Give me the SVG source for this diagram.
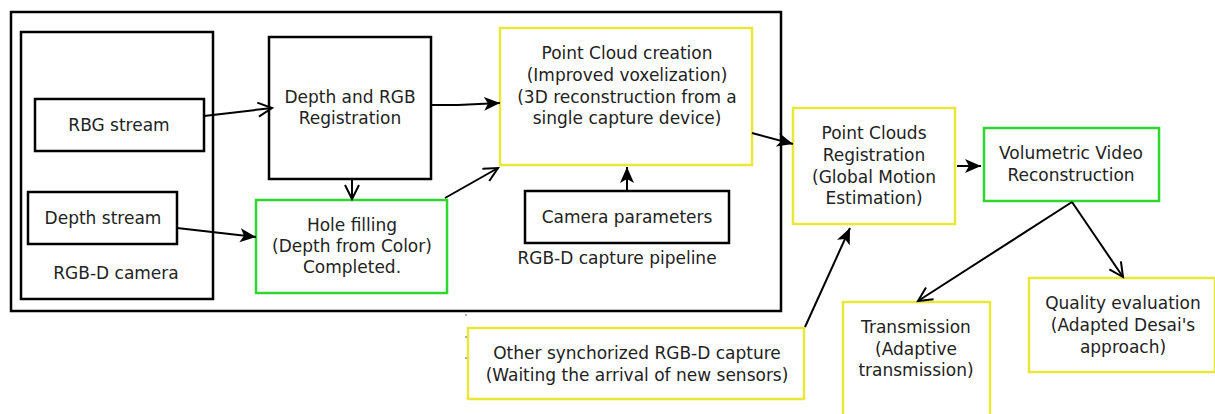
<svg xmlns="http://www.w3.org/2000/svg" width="1215" height="414" viewBox="0 0 1215 414">
<style>
text{font-family:"DejaVu Sans","Liberation Sans",sans-serif;font-size:17px;fill:#222;text-anchor:middle}
.b{fill:#fff;stroke:#000;stroke-width:2.5}
.y{fill:#fff;stroke:#e8e83a;stroke-width:2.5}
.g{fill:#fff;stroke:#2ed62e;stroke-width:2.5}
.c{fill:none;stroke:#000;stroke-width:2}
.f{marker-end:url(#af)}
.o{marker-end:url(#ao)}
</style>
<defs>
<marker id="af" markerUnits="userSpaceOnUse" markerWidth="20" markerHeight="20" refX="16" refY="8" orient="auto"><path d="M0,1 L16,8 L0,15 L4,8 Z" fill="#000"/></marker>
<marker id="ao" markerUnits="userSpaceOnUse" markerWidth="20" markerHeight="20" refX="15" refY="8" orient="auto"><path d="M1,1 L15,8 L1,15" fill="none" stroke="#000" stroke-width="2"/></marker>
</defs>
<g id="pipeline"><rect class="b" x="11" y="12" width="770" height="299"/><text x="617" y="264">RGB-D capture pipeline</text></g>
<g id="camera"><rect class="b" x="21" y="32" width="192" height="267"/><text x="116" y="279">RGB-D camera</text></g>
<g id="rbg"><rect class="b" x="35" y="99" width="169" height="52"/><text x="119" y="131">RBG stream</text></g>
<g id="depth"><rect class="b" x="28" y="192" width="149" height="52"/><text x="103" y="224">Depth stream</text></g>
<g id="reg"><rect class="b" x="269" y="37" width="162" height="142"/><text x="350" y="103">Depth and RGB</text><text x="350" y="124">Registration</text></g>
<g id="hole"><rect class="g" x="256" y="200" width="191" height="93"/><text x="352" y="231">Hole filling</text><text x="352" y="252">(Depth from Color)</text><text x="352" y="273">Completed.</text></g>
<g id="pcc"><rect class="y" x="500" y="28" width="252" height="137"/><text x="627" y="59">Point Cloud creation</text><text x="627" y="81">(Improved voxelization)</text><text x="627" y="103">(3D reconstruction from a</text><text x="627" y="124">single capture device)</text></g>
<g id="campar"><rect class="b" x="525" y="191" width="204" height="52"/><text x="627" y="223">Camera parameters</text></g>
<g id="pcreg"><rect class="y" x="793" y="108" width="162" height="116"/><text x="874" y="139">Point Clouds</text><text x="874" y="161">Registration</text><text x="874" y="183">(Global Motion</text><text x="874" y="204">Estimation)</text></g>
<g id="vol"><rect class="g" x="984" y="128" width="175" height="73"/><text x="1071" y="159">Volumetric Video</text><text x="1071" y="181">Reconstruction</text></g>
<g id="other"><rect class="y" x="468" y="328" width="336" height="71"/><text x="637" y="359">Other synchorized RGB-D capture</text><text x="637" y="381">(Waiting the arrival of new sensors)</text></g>
<g id="trans"><rect class="y" x="843" y="302" width="147" height="120"/><text x="916" y="333">Transmission</text><text x="916" y="355">(Adaptive</text><text x="916" y="376">transmission)</text></g>
<g id="quality"><rect class="y" x="1029" y="278" width="186" height="94"/><text x="1123" y="309">Quality evaluation</text><text x="1123" y="331">(Adapted Desai's</text><text x="1123" y="353">approach)</text></g>
<g id="dots" fill="#555"><circle cx="466" cy="315" r="0.8"/><circle cx="466" cy="337" r="0.8"/><circle cx="466" cy="358" r="0.8"/></g>
<g id="connectors">
<path class="c o" d="M204,116 L272,108"/>
<path class="c f" d="M177,228 L256,237"/>
<path class="c o" d="M352,179 L352,199"/>
<path class="c f" d="M431,105 L458,105 L500,103"/>
<path class="c o" d="M445,198 L498,168"/>
<path class="c f" d="M627,191 L627,167"/>
<path class="c f" d="M752,133 L793,144"/>
<path class="c f" d="M957,166 L981,166"/>
<path class="c f" d="M805,327 L850,228"/>
<path class="c o" d="M1072,202 L918,301"/>
<path class="c o" d="M1072,202 L1123,277"/>
</g>
</svg>
